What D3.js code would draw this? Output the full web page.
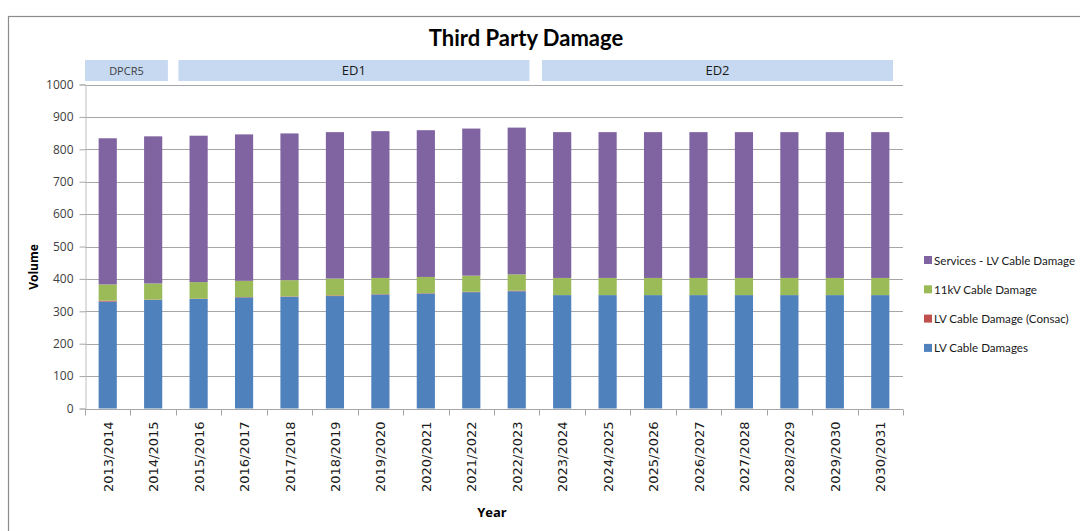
<!DOCTYPE html>
<html>
<head>
<meta charset="utf-8">
<script src="https://cdn.jsdelivr.net/npm/d3@7"></script>
<style>
  html, body { margin: 0; padding: 0; background: #fff; }
  svg { display: block; }
</style>
</head>
<body>
<svg id="chart" width="1080" height="531"></svg>
<script>
// Financial years on the x axis
const years = ["2013/2014","2014/2015","2015/2016","2016/2017","2017/2018","2018/2019",
  "2019/2020","2020/2021","2021/2022","2022/2023","2023/2024","2024/2025","2025/2026",
  "2026/2027","2027/2028","2028/2029","2029/2030","2030/2031"];

// Stacked series, bottom to top
const lvCableDamages = [330,335,338,343,345,347,352,355,359,362,350,350,350,350,350,350,350,350];
const lvConsac       = [3,1,1,1,1,2,1,1,1,2,0,0,0,0,0,0,0,0];
const hv11kV         = [50,50,51,50,50,52,50,50,50,50,53,53,53,53,53,53,53,53];
const servicesLV     = [451,454,452,452,453,452,453,453,454,453,450,450,450,450,450,450,450,450];

const seriesNames = ["LV Cable Damages","LV Cable Damage (Consac)","11kV Cable Damage","Services - LV Cable Damage"];
const seriesColors = ["#4f81bd","#c0504d","#9bbb59","#8064a2"];

// Regulatory periods shown above the plot
const periodNames = ["DPCR5","ED1","ED2"];
const periodFirst = ["2013/2014","2015/2016","2023/2024"];
const periodLast  = ["2014/2015","2022/2023","2030/2031"];

const yTicks = [0,100,200,300,400,500,600,700,800,900,1000];

const svg = d3.select("#chart");
const margin = {left: 85, right: 903, top: 84.5, bottom: 408.5};

const rows = years.map((y, i) => ({
  year: y,
  [seriesNames[0]]: lvCableDamages[i],
  [seriesNames[1]]: lvConsac[i],
  [seriesNames[2]]: hv11kV[i],
  [seriesNames[3]]: servicesLV[i]
}));
const stacked = d3.stack().keys(seriesNames)(rows);

const x = d3.scaleBand().domain(years).range([margin.left, margin.right]);
const y = d3.scaleLinear().domain([0, 1000]).range([margin.bottom, margin.top]);
const color = d3.scaleOrdinal().domain(seriesNames).range(seriesColors);

// Outer chart frame
svg.append("rect")
  .attr("x", 8.5).attr("y", 16.5).attr("width", 1100).attr("height", 600)
  .attr("fill", "none").attr("stroke", "#8c8c8c").attr("stroke-width", 1.2);

// Title
svg.append("text")
  .attr("x", 526).attr("y", 46)
  .attr("text-anchor", "middle")
  .attr("font-family", "Lato, 'Open Sans', sans-serif")
  .attr("font-weight", "bold")
  .attr("font-size", 22)
  .attr("fill", "#000")
  .text("Third Party Damage");

// Period bands
const periods = svg.append("g");
periodNames.forEach((name, i) => {
  const x0 = x(periodFirst[i]) + (i === 0 ? 0 : 2.5);
  const x1 = x(periodLast[i]) + x.bandwidth() - (i === 0 ? 8 : 10);
  periods.append("rect")
    .attr("x", x0).attr("y", 60).attr("width", x1 - x0).attr("height", 21)
    .attr("fill", "#c6d9f1");
  periods.append("text")
    .attr("x", (x0 + x1) / 2).attr("y", 75)
    .attr("text-anchor", "middle")
    .attr("font-family", "'Open Sans', sans-serif")
    .attr("font-size", i === 0 ? 11 : 13)
    .attr("fill", i === 0 ? "#404040" : "#1a1a1a")
    .text(name);
});

// Horizontal gridlines
svg.append("g")
  .selectAll("line")
  .data(yTicks.filter(t => t > 0))
  .join("line")
  .attr("x1", margin.left).attr("x2", margin.right)
  .attr("y1", d => Math.round(y(d)) + 0.5).attr("y2", d => Math.round(y(d)) + 0.5)
  .attr("stroke", "#a6a6a6").attr("stroke-width", 1);

// Y axis
const yAxis = svg.append("g")
  .attr("transform", `translate(${margin.left + 0.5},0)`)
  .call(d3.axisLeft(y).tickValues(yTicks).tickSize(6).tickPadding(6).tickFormat(d3.format("d")));
yAxis.select(".domain").attr("stroke", "#bfbfbf");
yAxis.selectAll(".tick line").attr("stroke", "#a6a6a6");
yAxis.selectAll(".tick text")
  .attr("font-family", "'Open Sans', sans-serif")
  .attr("font-size", 12)
  .attr("fill", "#404040");

// Stacked bars
const barW = x.bandwidth() * 0.4;
svg.append("g")
  .selectAll("g")
  .data(stacked)
  .join("g")
  .attr("fill", d => color(d.key))
  .selectAll("rect")
  .data(d => d)
  .join("rect")
  .attr("x", d => x(d.data.year) + (x.bandwidth() - barW) / 2)
  .attr("y", d => y(d[1]))
  .attr("width", barW)
  .attr("height", d => Math.max(0, y(d[0]) - y(d[1])));

// X axis with ticks on band boundaries
const xAxisG = svg.append("g").attr("transform", `translate(0,${Math.round(margin.bottom) + 0.5})`);
xAxisG.append("line")
  .attr("x1", margin.left).attr("x2", margin.right)
  .attr("stroke", "#a6a6a6");
xAxisG.selectAll("line.tk")
  .data(years.concat(["end"]))
  .join("line")
  .attr("class", "tk")
  .attr("x1", (d, i) => Math.round(margin.left + i * x.bandwidth()) + 0.5)
  .attr("x2", (d, i) => Math.round(margin.left + i * x.bandwidth()) + 0.5)
  .attr("y1", 0).attr("y2", 6)
  .attr("stroke", "#a6a6a6");
xAxisG.selectAll("text")
  .data(years)
  .join("text")
  .attr("transform", d => `translate(${x(d) + x.bandwidth() / 2 + 5},12) rotate(-90)`)
  .attr("text-anchor", "end")
  .attr("font-family", "'DejaVu Sans', sans-serif")
  .attr("font-size", 13)
  .attr("fill", "#1a1a1a")
  .text(d => d);

// Axis titles
svg.append("text")
  .attr("transform", "translate(38,267) rotate(-90)")
  .attr("text-anchor", "middle")
  .attr("font-family", "'Open Sans', sans-serif")
  .attr("font-weight", "bold")
  .attr("font-size", 12)
  .attr("fill", "#000")
  .text("Volume");

svg.append("text")
  .attr("x", 492).attr("y", 517)
  .attr("text-anchor", "middle")
  .attr("font-family", "'Open Sans', sans-serif")
  .attr("font-weight", "bold")
  .attr("font-size", 13)
  .attr("fill", "#000")
  .text("Year");

// Legend, top series first
const legendKeys = seriesNames.slice().reverse();
const legend = svg.append("g");
legendKeys.forEach((k, i) => {
  const cy = 260 + i * 29.3;
  legend.append("rect")
    .attr("x", 924).attr("y", cy - 4).attr("width", 8).attr("height", 8)
    .attr("fill", color(k));
  legend.append("text")
    .attr("x", 934).attr("y", cy + 4.5)
    .attr("font-family", "Lato, 'Open Sans', sans-serif")
    .attr("font-size", 11.6)
    .attr("fill", "#1a1a1a")
    .text(k);
});
</script>
</body>
</html>
